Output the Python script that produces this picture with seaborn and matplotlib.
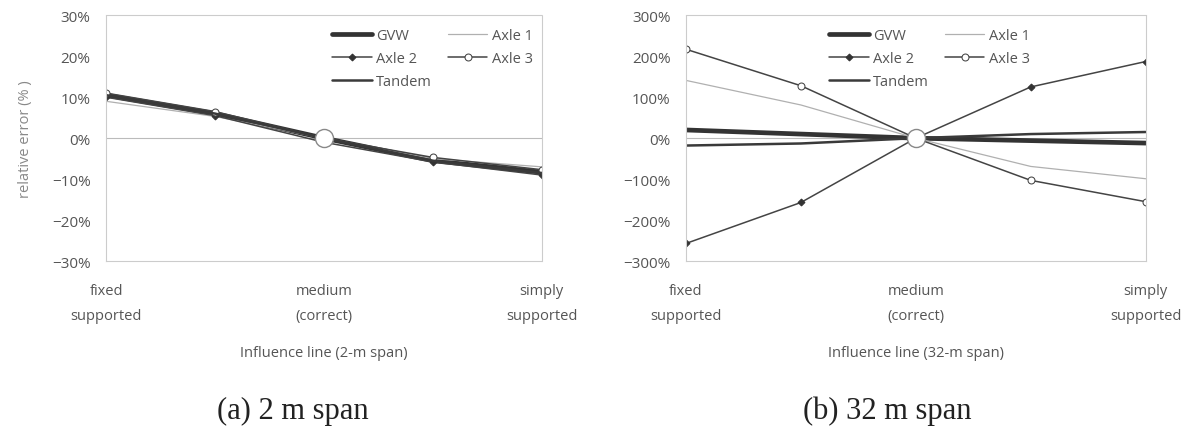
import pandas as pd
import matplotlib
matplotlib.use("Agg")
import matplotlib.pyplot as plt
import seaborn as sns
from matplotlib.ticker import PercentFormatter

# positions along the influence line (0 = fixed, 2 = medium, 4 = simply)
positions = [0, 1, 2, 3, 4]
tick_labels = ["fixed\nsupported", "medium\n(correct)", "simply\nsupported"]
series_names = ["GVW", "Axle 1", "Axle 2", "Axle 3", "Tandem"]

# relative error (%) - 2 m span
span2_gvw = [10.5, 6.0, 0.0, -5.5, -8.3]
span2_axle1 = [9.0, 5.3, 0.0, -5.0, -7.0]
span2_axle2 = [10.0, 5.5, -1.0, -5.8, -9.0]
span2_axle3 = [11.0, 6.5, 0.0, -4.7, -7.7]
span2_tandem = [10.5, 6.0, 0.0, -5.5, -8.5]

# relative error (%) - 32 m span
span32_gvw = [20, 10, 0, -6, -12]
span32_axle1 = [141, 81, 0, -69, -99]
span32_axle2 = [-257, -157, 0, 125, 187]
span32_axle3 = [217, 128, 0, -103, -155]
span32_tandem = [-18, -13, 0, 10, 15]

styles = {
    "GVW": dict(color="#333333", lw=3.4, marker=None),
    "Axle 1": dict(color="#b0b0b0", lw=0.9, marker=None),
    "Axle 2": dict(color="#444444", lw=1.1, marker="D", ms=3.5, mfc="#333333", mec="#333333"),
    "Axle 3": dict(color="#444444", lw=1.1, marker="o", ms=5, mfc="white", mec="#444444"),
    "Tandem": dict(color="#3a3a3a", lw=1.8, marker=None),
}
# row-wise legend order for a 2-column legend
legend_order = ["GVW", "Axle 2", "Tandem", "Axle 1", "Axle 3"]

TXT = "#555555"


def draw(ax, values, ylim, step, xlabel, leg_x):
    df = pd.DataFrame({"pos": positions * len(series_names),
                       "series": [n for n in series_names for _ in positions],
                       "err": sum(values, [])})
    ax.axhline(0, color="#bbbbbb", lw=0.8, zorder=0)
    for name in series_names:
        st = dict(styles[name])
        marker = st.pop("marker")
        sub = df[df["series"] == name]
        sns.lineplot(data=sub, x="pos", y="err", ax=ax, label=name,
                     marker=marker if marker else "", **st)
    # large open circle where all curves meet
    mid = df[(df["pos"] == 2) & (df["series"] == "Axle 3")]
    ax.plot(mid["pos"], mid["err"], "o", ms=13, mfc="white", mec="#888888",
            mew=1.0, zorder=5)
    ax.set_xlim(0, 4)
    ax.set_ylim(*ylim)
    ax.set_yticks(range(ylim[0], ylim[1] + 1, step))
    ax.yaxis.set_major_formatter(PercentFormatter(decimals=0))
    ax.set_xticks([0, 2, 4])
    ax.set_xticklabels(tick_labels, linespacing=1.9)
    ax.tick_params(axis="x", length=0, pad=16, colors=TXT, labelsize=10.5)
    ax.tick_params(axis="y", length=3, width=0.6, color="#cccccc", pad=8,
                   colors=TXT, labelsize=11)
    for sp in ax.spines.values():
        sp.set_visible(True)
        sp.set_color("#cccccc")
        sp.set_linewidth(0.8)
        sp.set_linestyle((0, (2, 1)))
    ax.set_xlabel(xlabel, color=TXT, fontsize=10.5, labelpad=16)
    ax.set_ylabel("")
    ax.grid(False)
    handles, labels = ax.get_legend_handles_labels()
    lookup = dict(zip(labels, handles))
    leg = ax.legend([lookup[n] for n in legend_order], legend_order, ncol=2,
                    loc="upper left", bbox_to_anchor=(leg_x, 1.0),
                    frameon=False, fontsize=10.5, handlelength=2.7,
                    columnspacing=1.1, labelspacing=0.55, handletextpad=0.3)
    for t in leg.get_texts():
        t.set_color(TXT)


sns.set_theme(style="white")
plt.rcParams["font.family"] = ["Open Sans", "DejaVu Sans"]

fig = plt.figure(figsize=(11.94, 4.39), dpi=100)
ax1 = fig.add_axes([0.0888, 0.403, 0.365, 0.560])
ax2 = fig.add_axes([0.5745, 0.403, 0.385, 0.560])

draw(ax1, [span2_gvw, span2_axle1, span2_axle2, span2_axle3, span2_tandem],
     (-30, 30), 10, "Influence line (2-m span)", 0.489)
draw(ax2, [span32_gvw, span32_axle1, span32_axle2, span32_axle3, span32_tandem],
     (-300, 300), 100, "Influence line (32-m span)", 0.283)

ax1.set_ylabel("relative error (% )", color="#888888", fontsize=10.5, labelpad=14)

fig.text(0.245, 0.045, "(a) 2 m span", family="Liberation Serif", fontsize=22,
         color="#222222", ha="center")
fig.text(0.743, 0.045, "(b) 32 m span", family="Liberation Serif", fontsize=22,
         color="#222222", ha="center")

fig.savefig("out.png", dpi=100, facecolor="white")
